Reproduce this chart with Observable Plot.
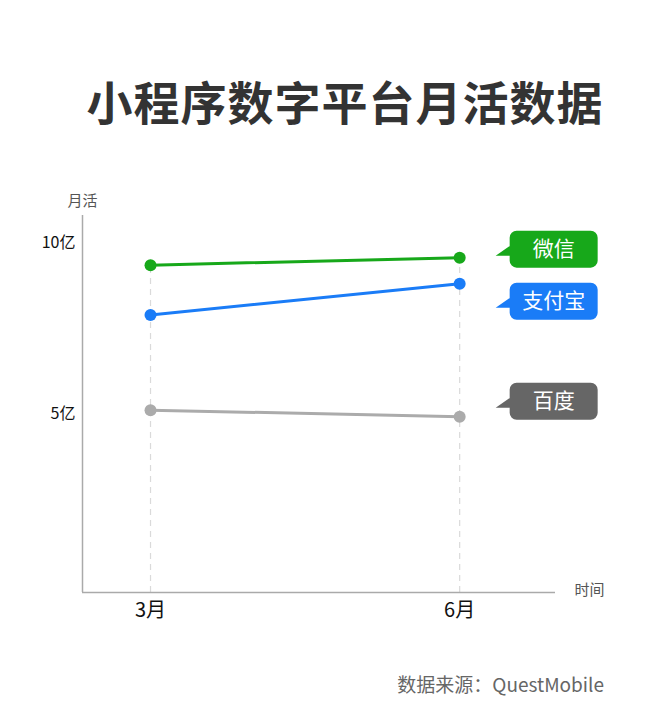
<!DOCTYPE html>
<html>
<head>
<meta charset="utf-8">
<script src="https://cdn.jsdelivr.net/npm/d3@7"></script>
<script src="https://cdn.jsdelivr.net/npm/@observablehq/plot@0.6"></script>
<style>
  html, body { margin: 0; padding: 0; background: #fff; }
  body { width: 670px; height: 720px; position: relative; font-family: "Noto Sans CJK SC", "Noto Sans", sans-serif; }
  #title { position: absolute; left: 0; width: 670px; top: 68px; text-align: center; font-size: 46px; font-weight: 700; color: #333; line-height: 64px; letter-spacing: 1px; padding-left: 20px; box-sizing: border-box; }
  #chart { position: absolute; left: 0; top: 170px; }
  #caption { position: absolute; right: 66px; top: 671px; font-size: 19px; color: #666; line-height: 26px; }
</style>
</head>
<body>
<div id="title">小程序数字平台月活数据</div>
<div id="chart"></div>
<div id="caption">数据来源：QuestMobile</div>
<script>
// ---- data ----
const months = [3, 6];
const monthLabels = ["3月", "6月"];
const seriesNames = ["微信", "支付宝", "百度"];
const wechat = [9.35, 9.57];
const alipay = [7.9, 8.81];
const baidu = [5.12, 4.93];
const yTicks = [5, 10];

// ---- styles ----
const lineColors = {"微信": "#17a81a", "支付宝": "#1a7cf7", "百度": "#ababab"};
const boxColors = {"微信": "#17a81a", "支付宝": "#1a7cf7", "百度": "#666666"};
const labelDy = {"微信": -2, "支付宝": 24, "百度": -9};

const values = [wechat, alipay, baidu];
const rows = [];
seriesNames.forEach((name, i) => {
  months.forEach((m, j) => rows.push({name, month: m, value: values[i][j]}));
});
const last = rows.filter(d => d.month === months[months.length - 1]);
const ruleTops = months.map((m, j) => ({month: m, top: d3.max(values, v => v[j])}));

// callout shape: pointer tip at (0,0), rounded box to the right
const callout = {
  draw(ctx) {
    const x0 = 14, x1 = 102, y0 = -25, y1 = 12, r = 7;
    ctx.moveTo(0, 0);
    ctx.lineTo(16, -11);
    ctx.lineTo(16, 0);
    ctx.closePath();
    ctx.moveTo(x0 + r, y0);
    ctx.lineTo(x1 - r, y0);
    ctx.arcTo(x1, y0, x1, y0 + r, r);
    ctx.lineTo(x1, y1 - r);
    ctx.arcTo(x1, y1, x1 - r, y1, r);
    ctx.lineTo(x0 + r, y1);
    ctx.arcTo(x0, y1, x0, y1 - r, r);
    ctx.lineTo(x0, y0 + r);
    ctx.arcTo(x0, y0, x0 + r, y0, r);
    ctx.closePath();
  }
};

const xDomain = [2.34, 6.93];
const yDomain = [-0.2, 10.8];

const labelMarks = [];
seriesNames.forEach(name => {
  const d = last.filter(r => r.name === name);
  labelMarks.push(Plot.dot(d, {x: "month", y: "value", symbol: callout, fill: boxColors[name], stroke: "none", dx: 36, dy: labelDy[name]}));
  labelMarks.push(Plot.text(d, {x: "month", y: "value", text: "name", fill: "#fff", fontSize: 21, textAnchor: "middle", dx: 36 + 58, dy: labelDy[name] - 6.5}));
});

const plot = Plot.plot({
  width: 670,
  height: 490,
  marginLeft: 82,
  marginRight: 115,
  marginTop: 45,
  marginBottom: 68,
  style: {fontFamily: '"Noto Sans CJK SC", "Noto Sans", sans-serif', background: "transparent"},
  x: {type: "linear", domain: xDomain},
  y: {type: "linear", domain: yDomain},
  color: {domain: seriesNames, range: seriesNames.map(n => lineColors[n])},
  marks: [
    Plot.ruleX(ruleTops, {x: "month", y1: yDomain[0], y2: "top", stroke: "#dadada", strokeWidth: 1.2, strokeDasharray: "6,5"}),
    Plot.ruleX([xDomain[0]], {y1: yDomain[0], y2: yDomain[1], stroke: "#aaa", strokeWidth: 1.5}),
    Plot.ruleY([yDomain[0]], {x1: xDomain[0], x2: xDomain[1], stroke: "#aaa", strokeWidth: 1.5}),
    Plot.axisY(yTicks, {tickSize: 0, tickPadding: 7, tickFormat: d => d + "亿", fontSize: 16, fill: "#111", label: null}),
    Plot.axisX(months, {tickSize: 0, tickPadding: 10, tickFormat: (d) => monthLabels[months.indexOf(d)], fontSize: 20, fill: "#111", label: null}),
    Plot.text(["月活"], {frameAnchor: "top-left", dy: -20, fontSize: 15, fill: "#555", textAnchor: "middle"}),
    Plot.text(["时间"], {frameAnchor: "bottom-right", dx: 34, dy: 2, fontSize: 15, fill: "#555", textAnchor: "middle"}),
    Plot.line(rows, {x: "month", y: "value", z: "name", stroke: "name", strokeWidth: 3}),
    Plot.dot(rows, {x: "month", y: "value", fill: "name", r: 6, stroke: "none"}),
    ...labelMarks
  ]
});
document.getElementById("chart").appendChild(plot);
</script>
</body>
</html>
